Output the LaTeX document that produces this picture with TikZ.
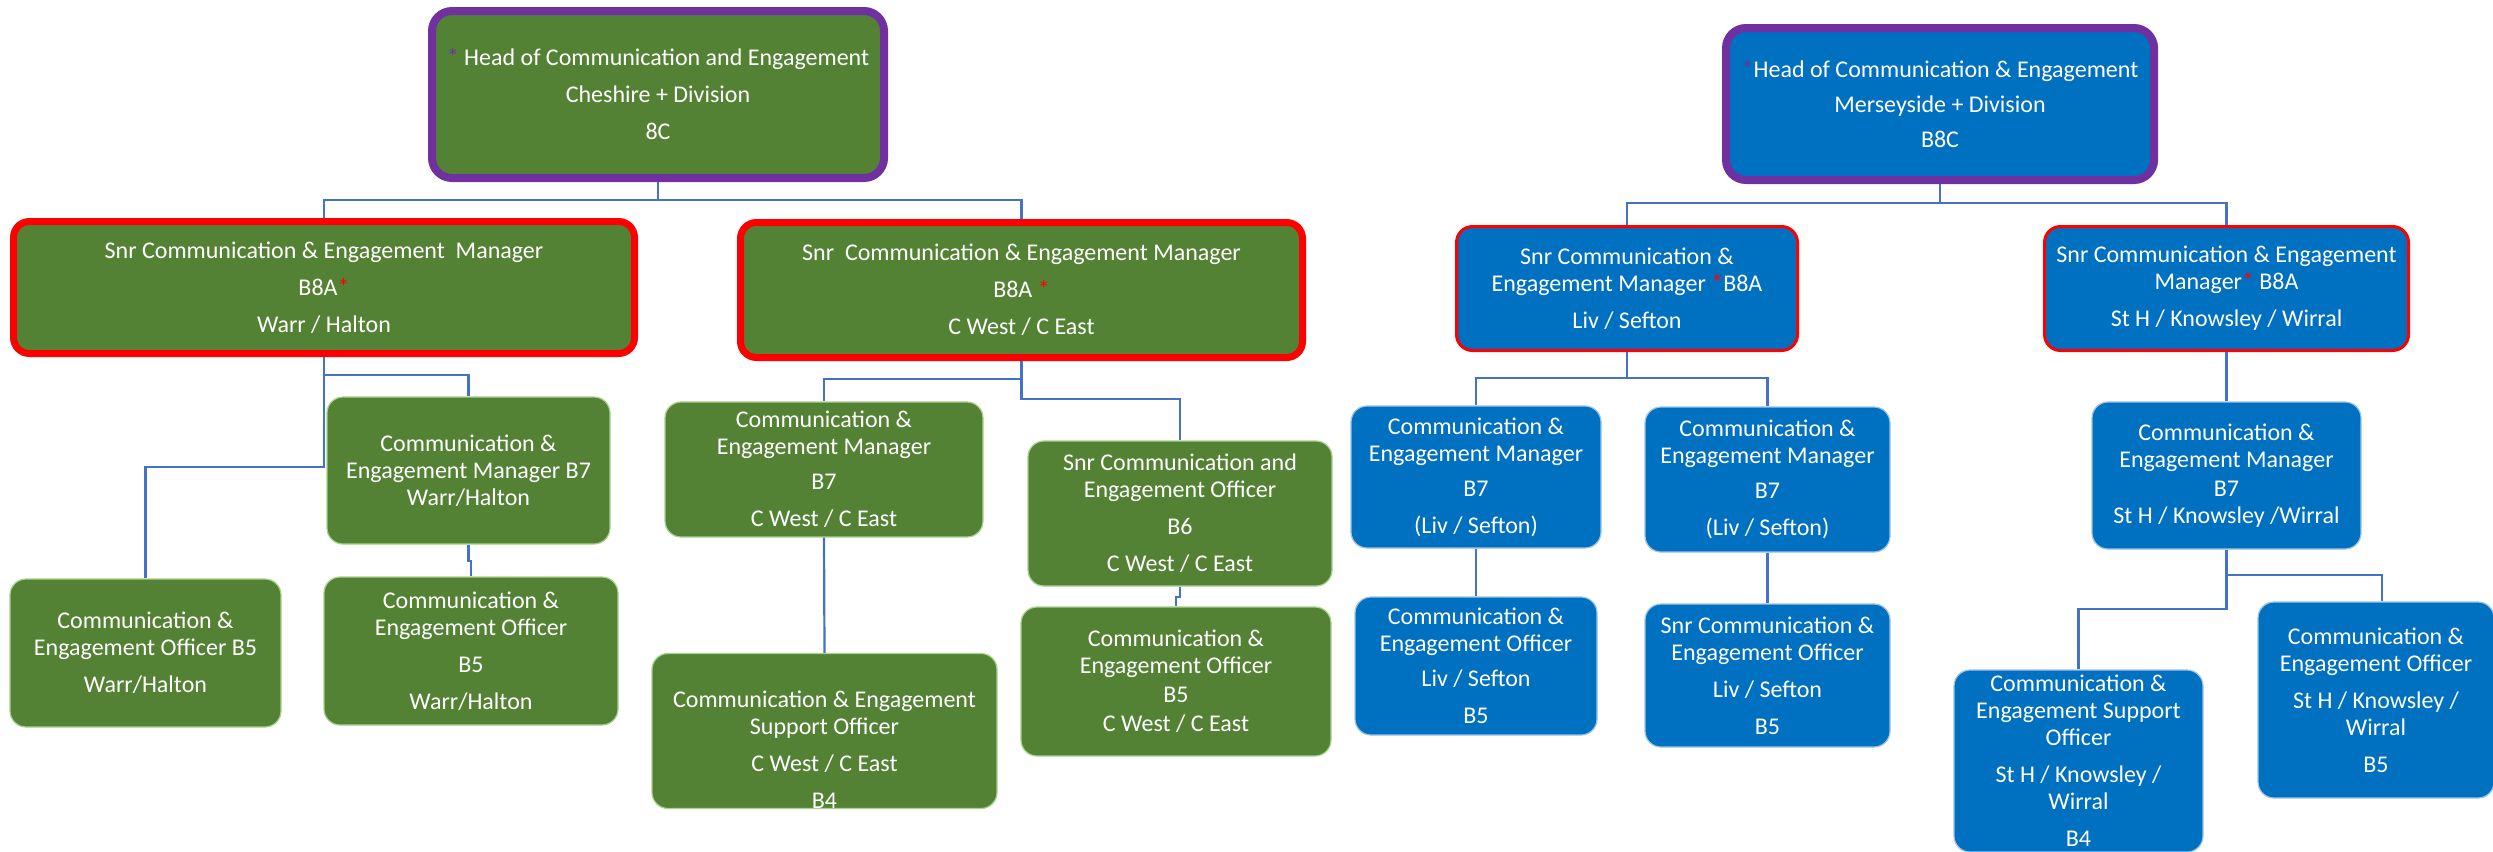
\documentclass[tikz,border=0pt]{standalone}
\usepackage{fontspec}
\setmainfont{Carlito}
\usetikzlibrary{calc}

\definecolor{cgreen}{HTML}{548235}
\definecolor{cgreenedge}{HTML}{A9D18E}
\definecolor{cblue}{HTML}{0070C0}
\definecolor{cblueedge}{HTML}{9DC3E6}
\definecolor{cpurple}{HTML}{7030A0}
\definecolor{clink}{HTML}{4472C4}

\begin{document}
\begin{tikzpicture}[
    x=0.5pt, y=-0.5pt,
    wh/.style 2 args={minimum width=#1*0.5pt, minimum height=#2*0.5pt},
    box/.style={rectangle, rounded corners=8pt, align=center, inner sep=0pt, text=white,
      font=\fontsize{12}{13.5}\selectfont},
    gbox/.style={box, fill=cgreen, draw=cgreenedge, line width=0.6pt},
    bbox/.style={box, fill=cblue, draw=cblueedge, line width=0.6pt},
    head/.style={draw=cpurple, line width=4pt, rounded corners=10pt},
    snr/.style={draw=red, line width=#1},
    link/.style={draw=clink, line width=1.1pt}
    ]
    \useasboundingbox (0,0) rectangle (2493,851);

    % Left: Cheshire
    \node[gbox, head, wh={452}{167}] (headC) at (658,94.5) {{\color{cpurple}*} Head of Communication and Engagement\\[5pt]
      Cheshire + Division\\[5pt]
      8C};

    \node[gbox, snr=3.5pt, wh={621}{132}] (snrWarr) at (324,287.5) {Snr Communication \& Engagement\ \ Manager\\[5pt]
      B8A{\color{red}*}\\[5pt]
      Warr / Halton};
    \node[gbox, snr=3.5pt, wh={562}{135}] (snrCW) at (1021.5,290) {Snr\ \ Communication \& Engagement Manager\\[5pt]
      B8A {\color{red}*}\\[5pt]
      C West / C East};

    % Warr / Halton team
    \node[gbox, wh={283}{147}] (mgrWarr) at (468.5,470.5) {Communication \&\\ Engagement Manager B7\\ Warr/Halton};
    \node[gbox, wh={271}{148}] (offWarrA) at (145.5,653) {Communication \&\\ Engagement Officer B5\\[5pt] Warr/Halton};
    \node[gbox, wh={294}{148}] (offWarrB) at (471,651) {Communication \&\\ Engagement Officer\\[5pt] B5\\[5pt] Warr/Halton};

    % C West / C East team
    \node[gbox, wh={318}{135}] (mgrCW) at (824,469.5) {Communication \&\\ Engagement Manager\\[4pt] B7\\[5pt] C West / C East};
    \node[gbox, wh={345}{150}] (supCW) at (824.5,731) {\rule{0pt}{27pt}Communication \& Engagement\\ Support Officer\\[5pt] C West / C East\\[5pt] B4};
    \node[gbox, wh={304}{145}] (snrOffCW) at (1180,513.5) {Snr Communication and\\ Engagement Officer\\[5pt] B6\\[5pt] C West / C East};
    \node[gbox, wh={310}{149}] (offCW) at (1176,681.5) {Communication \&\\ Engagement Officer\\[1pt] B5\\[1pt] C West / C East};

    % Right: Merseyside
    \node[bbox, head, wh={428}{152}] (headM) at (1940,104) {{\color{cpurple}*}Head of Communication \& Engagement\\[4pt]
      Merseyside + Division\\[4pt]
      B8C};

    \node[bbox, snr=1.5pt, wh={341}{124}] (snrLiv) at (1627,288.5) {Snr Communication \&\\ Engagement Manager {\color{red}*}B8A\\[5pt] Liv / Sefton};
    \node[bbox, snr=1.5pt, wh={364}{124}] (snrStH) at (2226.5,288.5) {Snr Communication \& Engagement\\ Manager{\color{red}*} B8A\\[5pt] St H / Knowsley / Wirral};

    % Liv / Sefton team
    \node[bbox, wh={250}{142}] (mgrLivA) at (1476,477) {Communication \&\\ Engagement Manager\\[4pt] B7\\[5pt] (Liv / Sefton)};
    \node[bbox, wh={245}{145}] (mgrLivB) at (1767.5,479.5) {Communication \&\\ Engagement Manager\\[4pt] B7\\[5pt] (Liv / Sefton)};
    \node[bbox, wh={242}{138}] (offLiv) at (1476,666) {Communication \&\\ Engagement Officer\\[4pt] Liv / Sefton\\[5pt] B5};
    \node[bbox, wh={245}{143}] (snrOffLiv) at (1767.5,675.5) {Snr Communication \&\\ Engagement Officer\\[5pt] Liv / Sefton\\[5pt] B5};

    % St H / Knowsley / Wirral team
    \node[bbox, wh={269}{147}] (mgrStH) at (2226.5,475.5) {Communication \&\\ Engagement Manager\\[1pt] B7\\ St H / Knowsley /Wirral};
    \node[bbox, wh={249}{182}] (supStH) at (2078.5,761) {Communication \&\\ Engagement Support\\ Officer\\[5pt] St H / Knowsley /\\ Wirral\\[5pt] B4};
    \node[bbox, wh={236}{196}] (offStH) at (2376,700) {Communication \&\\ Engagement Officer\\[5pt] St H / Knowsley /\\ Wirral\\[5pt] B5};

    % Connectors, left
    \draw[link] (headC.south) -- (headC.south |- 0,200) -| (snrWarr.north);
    \draw[link] (headC.south |- 0,200) -| (snrCW.north);
    \draw[link] (snrWarr.south) -- (snrWarr.south |- 0,375) -| (mgrWarr.north);
    \draw[link] (snrWarr.south) -- (snrWarr.south |- 0,467) -| (offWarrA.north);
    \draw[link] (mgrWarr.south) -- ++(0,16) -| (offWarrB.north);
    \draw[link] (snrCW.south) -- (snrCW.south |- 0,379) -| (mgrCW.north);
    \draw[link] (snrCW.south) -- (snrCW.south |- 0,399) -| (snrOffCW.north);
    \draw[link] (mgrCW.south) -- (supCW.north);
    \draw[link] (snrOffCW.south) -- ++(0,10) -| (offCW.north);

    % Connectors, right
    \draw[link] (headM.south) -- (headM.south |- 0,203) -| (snrLiv.north);
    \draw[link] (headM.south |- 0,203) -| (snrStH.north);
    \draw[link] (snrLiv.south) -- (snrLiv.south |- 0,378) -| (mgrLivA.north);
    \draw[link] (snrLiv.south |- 0,378) -| (mgrLivB.north);
    \draw[link] (mgrLivA.south) -- (offLiv.north);
    \draw[link] (mgrLivB.south) -- (snrOffLiv.north);
    \draw[link] (snrStH.south) -- (mgrStH.north);
    \draw[link] (mgrStH.south) -- (mgrStH.south |- 0,575) -| ([xshift=3pt]offStH.north);
    \draw[link] (mgrStH.south) -- (mgrStH.south |- 0,609) -| (supStH.north);

\end{tikzpicture}
\end{document}
